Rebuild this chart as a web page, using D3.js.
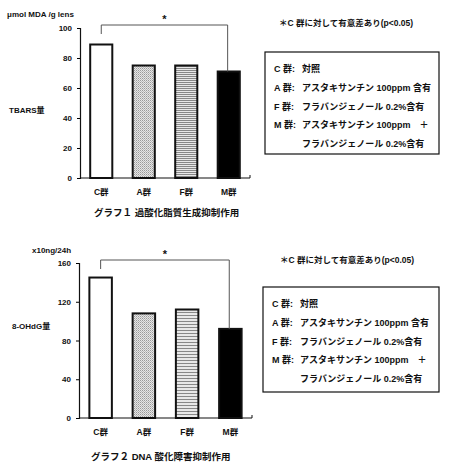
<!DOCTYPE html>
<html>
<head>
<meta charset="utf-8">
<script src="https://cdn.jsdelivr.net/npm/d3@7"></script>
<style>
  body { margin: 0; background: #fff; }
  svg text { font-family: "Liberation Sans", "Noto Sans CJK JP", sans-serif; font-weight: bold; fill: #111; }
</style>
</head>
<body>
<div id="chart"></div>
<script>
// groups shown on the x axis
const groups = ["C群", "A群", "F群", "M群"];

// graph 1: TBARS (μmol MDA / g lens)
const tbarsValues = [89, 75, 75, 71];
const tbarsTicks = [0, 20, 40, 60, 80, 100];

// graph 2: 8-OHdG (x10ng / 24h)
const ohdgValues = [145, 108, 112, 92];
const ohdgTicks = [0, 40, 80, 120, 160];

// legend box lines, [label, description]
const legendLines = [
    ["C 群:", "対照"],
    ["A 群:", "アスタキサンチン 100ppm 含有"],
    ["F 群:", "フラバンジェノール 0.2%含有"],
    ["M 群:", "アスタキサンチン 100ppm　＋"],
    ["", "フラバンジェノール 0.2%含有"]
];
const noteText = "＊C 群に対して有意差あり(p<0.05)";

const svg = d3.select("#chart").append("svg")
    .attr("width", 450)
    .attr("height", 465);

// fill patterns for the A and F bars
const defs = svg.append("defs");
function addPatterns(suffix, stripeGap) {
    const a = defs.append("pattern")
        .attr("id", "patA" + suffix)
        .attr("width", 2).attr("height", 2)
        .attr("patternUnits", "userSpaceOnUse");
    a.append("rect").attr("width", 2).attr("height", 2).attr("fill", "#e6e6e6");
    a.append("rect").attr("width", 1).attr("height", 1).attr("fill", "#9a9a9a");
    a.append("rect").attr("x", 1).attr("y", 1).attr("width", 1).attr("height", 1).attr("fill", "#bbb");

    const f = defs.append("pattern")
        .attr("id", "patF" + suffix)
        .attr("width", 4).attr("height", stripeGap)
        .attr("patternUnits", "userSpaceOnUse");
    f.append("rect").attr("width", 4).attr("height", stripeGap).attr("fill", "#e8e8e8");
    f.append("rect").attr("width", 4).attr("height", 1).attr("fill", "#888");
}
addPatterns("1", 2);
addPatterns("2", 3);

function fillFor(i, suffix) {
    return ["#fff", "url(#patA" + suffix + ")", "url(#patF" + suffix + ")", "#000"][i];
}

function drawChart(cfg) {
    const g = svg.append("g");

    const x = d3.scaleBand()
        .domain(groups)
        .range(cfg.xRange)
        .paddingInner(0.48)
        .paddingOuter(0.24);

    const y = d3.scaleLinear()
        .domain([0, d3.max(cfg.ticks)])
        .range(cfg.yRange);

    // y axis
    const yAxis = g.append("g")
        .attr("transform", `translate(${cfg.xRange[0]},0)`)
        .call(d3.axisLeft(y).tickValues(cfg.ticks).tickSize(3).tickPadding(5));
    yAxis.select(".domain").attr("stroke", "#111").attr("stroke-width", 1.2);
    yAxis.selectAll("text").style("font-size", "8px").attr("fill", "#111");

    // bars
    g.selectAll(".bar")
        .data(cfg.values)
        .enter()
        .append("rect")
        .attr("class", "bar")
        .attr("x", (d, i) => x(groups[i]))
        .attr("width", x.bandwidth())
        .attr("y", d => y(d))
        .attr("height", d => y(0) - y(d))
        .attr("fill", (d, i) => fillFor(i, cfg.suffix))
        .attr("stroke", "#111")
        .attr("stroke-width", 2);

    // x axis baseline
    g.append("line")
        .attr("x1", cfg.xRange[0]).attr("x2", cfg.xRange[1])
        .attr("y1", y(0)).attr("y2", y(0))
        .attr("stroke", "#111").attr("stroke-width", 1.2);
    g.append("line")
        .attr("x1", cfg.xRange[1]).attr("x2", cfg.xRange[1])
        .attr("y1", y(0)).attr("y2", y(0) - 3)
        .attr("stroke", "#111");

    g.selectAll(".cat")
        .data(groups)
        .enter()
        .append("text")
        .attr("x", d => x(d) + x.bandwidth() / 2)
        .attr("y", y(0) + 17)
        .attr("text-anchor", "middle")
        .style("font-size", "8.5px")
        .text(d => d);

    // significance bracket C vs M
    const cx = x(groups[0]) + x.bandwidth() / 2;
    const mx = x(groups[3]) + x.bandwidth() * 0.45;
    const top = y(d3.max(cfg.ticks)) - 3;
    g.append("path")
        .attr("d", `M${cx},${top + 9}V${top}H${mx}V${y(cfg.values[3])}`)
        .attr("fill", "none")
        .attr("stroke", "#555")
        .attr("stroke-width", 1);
    g.append("text")
        .attr("x", (cx + mx) / 2)
        .attr("y", top - 2)
        .attr("text-anchor", "middle")
        .style("font-size", "11px")
        .text("*");

    // axis titles
    g.append("text")
        .attr("x", cfg.unitX).attr("y", cfg.unitY)
        .style("font-size", "8px")
        .text(cfg.unit);
    g.append("text")
        .attr("x", cfg.measureX).attr("y", cfg.measureY)
        .style("font-size", "8px")
        .text(cfg.measure);

    // graph caption
    g.append("text")
        .attr("x", cfg.titleX).attr("y", cfg.titleY)
        .style("font-size", "9.5px")
        .text(cfg.title);

    // note and legend box
    g.append("text")
        .attr("x", cfg.noteX).attr("y", cfg.noteY)
        .style("font-size", "8.5px")
        .text(noteText);

    g.append("rect")
        .attr("x", cfg.box[0]).attr("y", cfg.box[1])
        .attr("width", cfg.box[2]).attr("height", cfg.box[3])
        .attr("fill", "#fff")
        .attr("stroke", "#111")
        .attr("stroke-width", 1.2);

    const rows = g.selectAll(".leg")
        .data(legendLines)
        .enter()
        .append("g")
        .attr("transform", (d, i) => `translate(${cfg.box[0] + 9},${cfg.box[1] + 20 + i * 18.8})`);
    rows.append("text")
        .style("font-size", "9px")
        .text(d => d[0]);
    rows.append("text")
        .attr("x", 28)
        .style("font-size", "9px")
        .text(d => d[1]);
}

drawChart({
    values: tbarsValues,
    ticks: tbarsTicks,
    suffix: "1",
    xRange: [80, 250],
    yRange: [178, 28],
    unit: "μmol MDA /g lens", unitX: 7, unitY: 17,
    measure: "TBARS量", measureX: 9, measureY: 113,
    title: "グラフ１  過酸化脂質生成抑制作用", titleX: 94, titleY: 216,
    noteX: 279, noteY: 26,
    box: [265, 52, 174, 102]
});

drawChart({
    values: ohdgValues,
    ticks: ohdgTicks,
    suffix: "2",
    xRange: [79, 252],
    yRange: [418, 263],
    unit: "x10ng/24h", unitX: 32, unitY: 253,
    measure: "8-OHdG量", measureX: 12, measureY: 329,
    title: "グラフ２    DNA 酸化障害抑制作用", titleX: 91, titleY: 460,
    noteX: 280, noteY: 263,
    box: [263, 287, 176, 105]
});
</script>
</body>
</html>
